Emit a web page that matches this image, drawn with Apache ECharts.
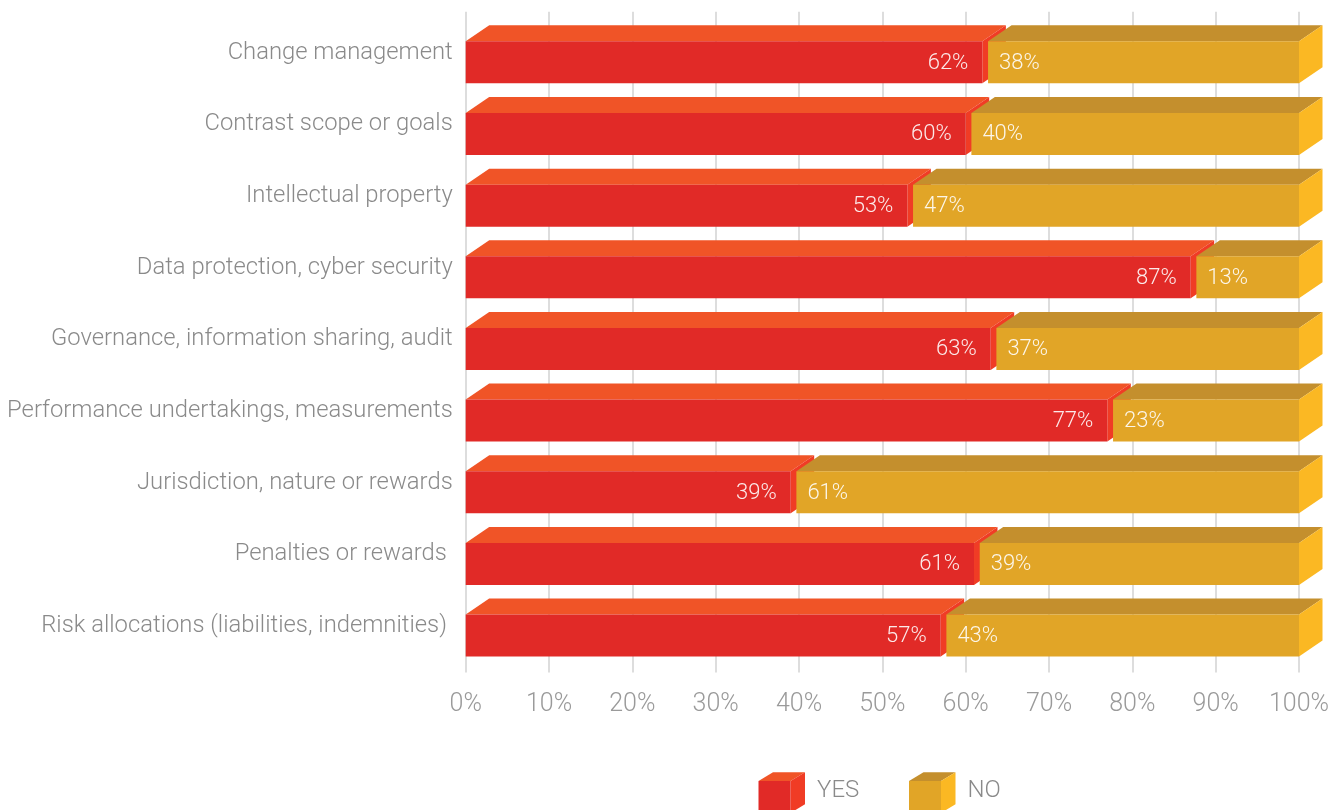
<!DOCTYPE html>
<html>
<head>
<meta charset="utf-8">
<script src="https://cdn.jsdelivr.net/npm/echarts@6/dist/echarts.min.js"></script>
<style>html,body{margin:0;padding:0;background:#fff}#c{width:1344px;height:810px}</style>
</head>
<body>
<div id="c"></div>
<script>
const categories = ["Change management","Contrast scope or goals","Intellectual property","Data protection, cyber security","Governance, information sharing, audit","Performance undertakings, measurements","Jurisdiction, nature or rewards","Penalties or rewards ","Risk allocations (liabilities, indemnities) "];
const yesValues = [62,60,53,87,63,77,39,61,57];
const noValues = [38,40,47,13,37,23,61,39,43];
const xTicks = [0,10,20,30,40,50,60,70,80,90,100];
const seriesNames = ["YES","NO"];

const FONT = "Roboto";
const DX = 23.5, DY = 16, FT = -11.5, FB = 30.5, GAP = 5.7;
const YES_C = {front:"#E12A27", top:"#F05427", side:"#F03C25"};
const NO_C = {front:"#E1A527", top:"#C48F2D", side:"#FBB823"};
const LABEL_COLOR = "rgba(255,255,255,0.9)";

function box(x0, x1, c, col, text, isYes) {
  const top = c + FT, bot = c + FB;
  const els = [
    {type:"polygon", shape:{points:[[x0,top],[x1,top],[x1+DX,top-DY],[x0+DX,top-DY]]}, style:{fill:col.top}},
    {type:"polygon", shape:{points:[[x1,top],[x1+DX,top-DY],[x1+DX,bot-DY],[x1,bot]]}, style:{fill:col.side}},
    {type:"rect", shape:{x:x0, y:top, width:x1-x0, height:bot-top}, style:{fill:col.front}},
    {type:"text", style:{text:text, x: isYes ? x1-14 : x0+11, y:(top+bot)/2+1, align: isYes ? "right" : "left", verticalAlign:"middle", fill:LABEL_COLOR, font:"300 22px " + FONT}}
  ];
  return {type:"group", children:els};
}

const yesData = categories.map((c,i)=>[yesValues[i], i]);
const noData = categories.map((c,i)=>[yesValues[i]+noValues[i], i, yesValues[i], noValues[i]]);

function legendCube(x, col, label) {
  const fx0 = x, fx1 = x+32, ft = 781, fb = 813, dx = 14.5, dy = 8.7;
  return [
    {type:"polygon", shape:{points:[[fx0,ft],[fx1,ft],[fx1+dx,ft-dy],[fx0+dx,ft-dy]]}, style:{fill:col.top}},
    {type:"polygon", shape:{points:[[fx1,ft],[fx1+dx,ft-dy],[fx1+dx,fb-dy],[fx1,fb]]}, style:{fill:col.side}},
    {type:"rect", shape:{x:fx0,y:ft,width:32,height:fb-ft}, style:{fill:col.front}},
    {type:"text", style:{text:label, x:fx1+dx+12, y:791, verticalAlign:"middle", fill:"#8a8a8a", font:"300 24px " + FONT}}
  ];
}

const chart = echarts.init(document.getElementById("c"), null, {renderer:"canvas"});
chart.setOption({
  animation:false,
  backgroundColor:"#fff",
  grid:[
    {left:465.7, right:45, top:17, bottom:148.1},
    {left:465.7, right:45, top:11.7, bottom:137.5}
  ],
  xAxis:[
    {gridIndex:0, type:"value", min:0, max:100, show:false},
    {gridIndex:1, type:"value", min:0, max:100, interval:10,
     axisLine:{show:false}, axisTick:{show:false},
     splitLine:{show:true, lineStyle:{color:"#d2d2d2", width:1.5}},
     axisLabel:{margin:20, color:"#9a9a9a", fontFamily:FONT, fontWeight:300, fontSize:25, formatter:"{value}%"}}
  ],
  yAxis:[
    {gridIndex:0, type:"category", data:categories, inverse:true,
     axisLine:{show:false}, axisTick:{show:false}, splitLine:{show:false},
     axisLabel:{margin:13, color:"#8a8a8a", fontFamily:FONT, fontWeight:300, fontSize:23.8}},
    {gridIndex:1, type:"value", min:0, max:1, show:false}
  ],
  series:[
    {name:seriesNames[0], type:"custom", xAxisIndex:0, yAxisIndex:0, data:yesData, clip:false,
     encode:{x:0, y:1},
     renderItem:function(params, api){
       const v = api.value(0), i = api.value(1);
       const p0 = api.coord([0, i]), p1 = api.coord([v, i]);
       return box(p0[0], p1[0], p0[1], YES_C, v + "%", true);
     }},
    {name:seriesNames[1], type:"custom", xAxisIndex:0, yAxisIndex:0, data:noData, clip:false,
     encode:{x:0, y:1},
     renderItem:function(params, api){
       const end = api.value(0), i = api.value(1), start = api.value(2), v = api.value(3);
       const p0 = api.coord([start, i]), p1 = api.coord([end, i]);
       return box(p0[0]+GAP, p1[0], p0[1], NO_C, v + "%", false);
     }}
  ],
  graphic:[{type:"group", children: legendCube(758.5, YES_C, seriesNames[0]).concat(legendCube(909, NO_C, seriesNames[1]))}]
});
</script>
</body>
</html>
